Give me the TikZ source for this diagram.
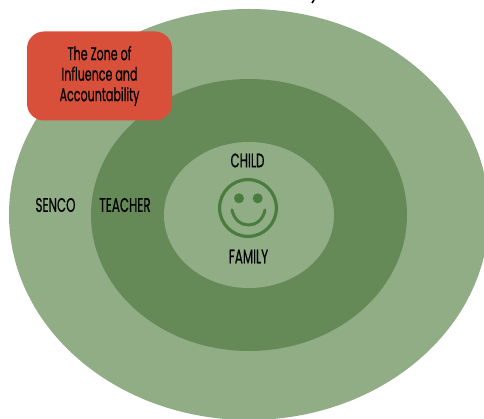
\documentclass[tikz,border=0pt]{standalone}
\usepackage{fontspec}
\setmainfont[FakeBold=0.7]{Poppins}
\usetikzlibrary{shapes.geometric}
\definecolor{outerg}{HTML}{91AD86}
\definecolor{midg}{HTML}{658A58}
\definecolor{faceg}{HTML}{4A7C3F}
\definecolor{zonered}{HTML}{D9503A}
\tikzset{
  x=1pt,y=-1pt,
  lbl/.style={font=\fontsize{19.5}{19.5}\selectfont,text=black,inner sep=0pt,xscale=.61},
  zonelbl/.style={font=\fontsize{18.5}{20.5}\selectfont,text=black,inner sep=0pt,xscale=.6,align=center},
}
\begin{document}
\begin{tikzpicture}
\useasboundingbox (0,0) rectangle (484,419);
\begin{scope}
\clip (0,0) rectangle (484,419);
\fill[white] (0,0) rectangle (484,419);
\fill[outerg] (249,214.5) ellipse [x radius=240, y radius=205.5];
\fill[midg] (249,215) ellipse [x radius=158, y radius=136];
\fill[outerg] (249,215) ellipse [x radius=85, y radius=73];
\draw[black,line width=1.6pt] (314,0) -- (312,3);
\end{scope}
\draw[faceg,line width=3.2pt] (248,208) circle [radius=28.4];
\fill[faceg] (239,198.3) circle [radius=5];
\fill[faceg] (257.7,198.3) circle [radius=5];
\draw[faceg,line width=3pt,line cap=round] (232,210) .. controls (236,230) and (261,230) .. (265,210);
\node[fill=zonered,rounded corners=17pt,minimum width=145pt,minimum height=89pt,inner sep=0pt] (zone) at (99.5,76) {};
\node[zonelbl] (zonetext) at (zone.center) {The Zone of\\Influence and\\Accountability};
\node[lbl] (child) at (247.5,160.5) {CHILD};
\node[lbl] (family) at (248.5,256.5) {FAMILY};
\node[lbl] (senco) at (55.5,205) {SENCO};
\node[lbl] (teacher) at (125,205) {TEACHER};
\end{tikzpicture}
\end{document}
